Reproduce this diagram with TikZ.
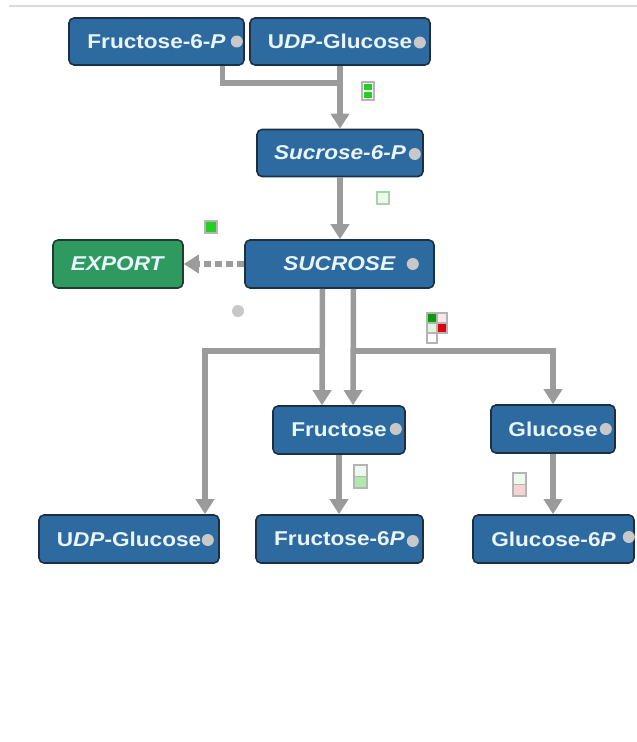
\documentclass[tikz,border=0pt]{standalone}
\usepackage{fontspec}
\usepackage{xcolor}
\usetikzlibrary{
    positioning,
    calc,
    arrows.meta
}
\newfontfamily\boxfont{Liberation Sans}[FakeStretch=1.13]
\definecolor{BoxBlue}{HTML}{2D6A9F}
\definecolor{BoxEdge}{HTML}{1C2F45}
\definecolor{BoxText}{HTML}{EAF4FB}
\definecolor{ExportGreen}{HTML}{2F9A60}
\definecolor{ExportEdge}{HTML}{1F3D2C}
\definecolor{ArrowGray}{HTML}{9B9B9B}
\definecolor{DotGray}{HTML}{C8C8C8}
\definecolor{FrameGray}{HTML}{B4B4B4}
\definecolor{CellGreen}{HTML}{22D022}
\definecolor{CellDark}{HTML}{0A9A0A}
\definecolor{CellRed}{HTML}{E00010}
\definecolor{CellPaleGreen}{HTML}{DDF3DD}
\definecolor{CellMint}{HTML}{AEEAAE}
\definecolor{CellPink}{HTML}{F3D3D6}
\definecolor{CellBlush}{HTML}{F7E8EA}

\tikzset{
    metabox/.style={
        fill=BoxBlue,
        draw=BoxEdge,
        line width=1.6pt,
        rounded corners=5pt,
        text=BoxText,
        font=\boxfont\bfseries\fontsize{20}{22}\selectfont,
        minimum height=47pt,
        inner sep=0pt
    },
    exportbox/.style={
        metabox,
        fill=ExportGreen,
        draw=ExportEdge
    },
    flow/.style={
        draw=ArrowGray,
        line width=5.5pt,
        -{Triangle[width=18pt,length=15pt]}
    },
    flowjoin/.style={
        draw=ArrowGray,
        line width=5.5pt
    },
    exportflow/.style={
        flow,
        dash pattern=on 7pt off 4pt
    },
    gdot/.style={fill=DotGray},
    cellframe/.style={draw=FrameGray, line width=1.2pt}
}

\begin{document}
\begin{tikzpicture}[x=1pt, y=-1pt]
    \useasboundingbox (0,0) rectangle (637,742);
    \draw[draw=DotGray!70, line width=1.5pt] (9,6) -- (637,6);

    % nodes
    \node[metabox, minimum width=175pt] (f6p) at (156.5,41.5) {Fructose-6-\textit{P}};
    \node[metabox, minimum width=180pt] (udpg) at (340,41.5) {U\textit{DP}-Glucose};
    \node[metabox, minimum width=166pt] (s6p) at (340,153) {\textit{Sucrose-6-P}};
    \node[metabox, minimum width=189pt, minimum height=48pt] (suc) at (339.5,264) {\textit{SUCROSE}};
    \node[exportbox, minimum width=130pt, minimum height=48pt] (exp) at (118,264) {\textit{EXPORT}};
    \node[metabox, minimum width=132pt, minimum height=48pt] (fru) at (339,430) {Fructose};
    \node[metabox, minimum width=124pt, minimum height=48pt] (glc) at (553,429) {Glucose};
    \node[metabox, minimum width=180pt, minimum height=48pt] (udpg2) at (129,539) {U\textit{DP}-Glucose};
    \node[metabox, minimum width=167pt, minimum height=48pt] (f6p2) at (339.5,539) {Fructose-6\textit{P}};
    \node[metabox, minimum width=161pt, minimum height=48pt] (g6p) at (553.5,539) {Glucose-6\textit{P}};

    % dots on the boxes
    \fill[gdot] ([xshift=-8pt]f6p.east) circle (6pt);
    \fill[gdot] ([xshift=-11pt,yshift=-1pt]udpg.east) circle (6pt);
    \fill[gdot] ([xshift=-9pt,yshift=-1pt]s6p.east) circle (6pt);
    \fill[gdot] ([xshift=-22pt]suc.east) circle (6pt);
    \fill[gdot] ([xshift=-10pt,yshift=1pt]fru.east) circle (6pt);
    \fill[gdot] ([xshift=-10pt]glc.east) circle (6pt);
    \fill[gdot] ([xshift=-12pt,yshift=-1pt]udpg2.east) circle (6pt);
    \fill[gdot] ([xshift=-11pt,yshift=-2pt]f6p2.east) circle (6pt);
    \fill[gdot] ([xshift=-6pt,yshift=2pt]g6p.east) circle (6pt);
    \fill[gdot] (238,311) circle (6pt);

    % connectors
    \draw[flowjoin] ([xshift=66pt]f6p.south) |- ([yshift=-17pt]udpg.south);
    \draw[flow] (udpg.south) -- (s6p.north);
    \draw[flow] (s6p.south) -- ([xshift=0.5pt]suc.north);
    \draw[exportflow] (suc.west) -- (exp.east);
    \draw[flow] ([xshift=-17pt]suc.south) -- ([xshift=-17pt]fru.north);
    \draw[flow] ([xshift=14pt]suc.south) -- ([xshift=14pt]fru.north);
    \draw[flow] ([xshift=-17pt,yshift=-62pt]suc.south) -| ([xshift=76pt]udpg2.north);
    \draw[flow] ([xshift=14pt,yshift=-62pt]suc.south) -| (glc.north);
    \draw[flow] (fru.south) -- (fru.south |- f6p2.north);
    \draw[flow] (glc.south) -- (glc.south |- g6p.north);

    % small markers
    \draw[cellframe] (362,82) rectangle (374,100);
    \fill[CellGreen] (364,84) rectangle (372,90);
    \fill[CellGreen] (364,92) rectangle (372,98);
    \draw[cellframe, draw=CellMint!80!gray, fill=CellPaleGreen!50] (377,192) rectangle (389,204);
    \draw[cellframe, fill=CellGreen] (205,221) rectangle (217,233);
    \draw[cellframe, fill=CellDark] (427,313) rectangle (437,323);
    \draw[cellframe, fill=CellBlush] (437,313) rectangle (447,323);
    \draw[cellframe, fill=CellPaleGreen] (427,323) rectangle (437,333);
    \draw[cellframe, fill=CellRed] (437,323) rectangle (447,333);
    \draw[cellframe, fill=white] (427,333) rectangle (437,343);
    \draw[cellframe, fill=CellPaleGreen!50] (354,465) rectangle (367,476.5);
    \draw[cellframe, fill=CellMint] (354,476.5) rectangle (367,488);
    \draw[cellframe, fill=CellPaleGreen!50] (513,473) rectangle (526,484.5);
    \draw[cellframe, fill=CellPink] (513,484.5) rectangle (526,496);
\end{tikzpicture}
\end{document}
